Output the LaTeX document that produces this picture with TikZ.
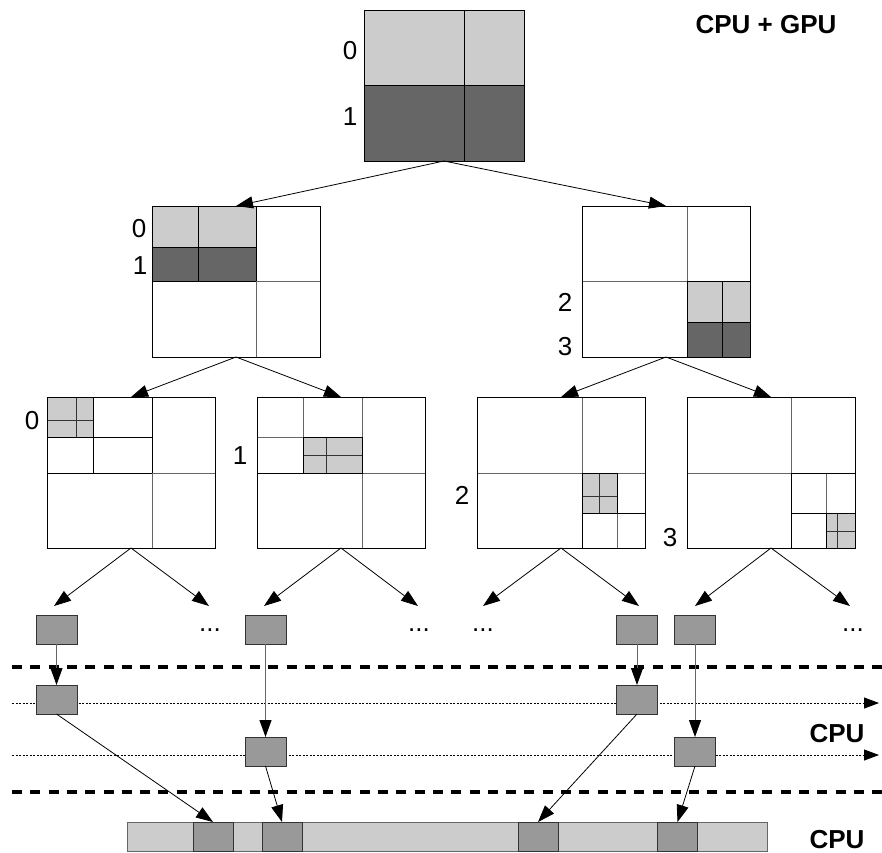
\documentclass[tikz,border=0pt]{standalone}
\usepackage{fontspec}
\setmainfont{Liberation Sans}
\usetikzlibrary{arrows.meta}
\definecolor{lightg}{HTML}{CCCCCC}
\definecolor{darkg}{HTML}{666666}
\definecolor{midg}{HTML}{999999}
\begin{document}
\begin{tikzpicture}[x=1pt,y=-1pt,
  sq/.style={draw=black, line width=1pt, minimum width=168pt, minimum height=151pt, inner sep=0pt, outer sep=0pt},
  inl/.style={line width=0.8pt, draw=black!60},
  thk/.style={line width=1pt, draw=black},
  fine/.style={line width=0.8pt, draw=black!80},
  arr/.style={-{Triangle[length=17pt,width=12pt]}, line width=0.8pt},
  arrv/.style={-{Triangle[length=17pt,width=12pt,color=black]}, draw=black!60, line width=1pt},
  blk/.style={draw=black!80, fill=midg, line width=1pt, minimum width=41pt, minimum height=29pt, inner sep=0pt, outer sep=0pt},
  seg/.style={draw=black!80, fill=midg, line width=1pt, minimum width=40pt, minimum height=29pt, inner sep=0pt, outer sep=0pt},
  barbox/.style={draw=black!60, fill=lightg, line width=1pt, minimum width=640pt, minimum height=29pt, inner sep=0pt, outer sep=0pt},
  num/.style={font=\fontsize{26}{30}\selectfont, inner sep=0pt, anchor=base},
  lbl/.style={font=\bfseries\fontsize{26}{30}\selectfont, inner sep=0pt, anchor=base},
  thickdash/.style={line width=4pt, dash pattern=on 10pt off 8.3pt},
  dotarr/.style={line width=0.8pt, dash pattern=on 2pt off 1.5pt, -{Triangle[length=15pt,width=11pt,sep=0pt]}}
]
\useasboundingbox (0,0) rectangle (882,852);

% ---------- top square ----------
\fill[lightg] (364,10) rectangle (524,85);
\fill[darkg] (364,85) rectangle (524,161);
\draw[line width=1pt] (464,10)--(464,161) (364,85)--(524,85);
\node[sq, minimum width=160pt] (top) at (444,85.5) {};
\node[num] (t0) at (350,59) {0};
\node[num] (t1) at (350,125) {1};
\node[lbl] (cg) at (766,33) {CPU + GPU};

% ---------- level 2 left ----------
\fill[lightg] (152,206) rectangle (256,247);
\fill[darkg] (152,247) rectangle (256,281);
\draw[inl] (256,206)--(256,357) (152,281)--(320,281);
\draw[line width=1pt] (198,206)--(198,281) (152,247)--(256,247) (256,206)--(256,281) (152,281)--(256,281);
\node[sq] (la) at (236,281.5) {};
\node[num] (la0) at (139,237) {0};
\node[num] (la1) at (140,274) {1};

% ---------- level 2 right ----------
\fill[lightg] (687,281) rectangle (750,322);
\fill[darkg] (687,322) rectangle (750,357);
\draw[inl] (687,206)--(687,357) (582,281)--(750,281);
\draw[line width=1pt] (722,281)--(722,357) (687,322)--(750,322) (687,281)--(687,357) (687,281)--(750,281);
\node[sq] (lb) at (666,281.5) {};
\node[num] (lb2) at (565,311) {2};
\node[num] (lb3) at (565,355) {3};

% ---------- level 3, square 1 ----------
\fill[lightg] (47,397) rectangle (93,437);
\draw[inl] (152,397)--(152,548) (47,473)--(215,473);
\draw[fine] (76,397)--(76,437) (47,420)--(93,420);
\draw[thk] (47,437)--(152,437) (93,397)--(93,473) (152,397)--(152,473) (47,473)--(152,473);
\draw[thk] (47,397) rectangle (93,437);
\node[sq] (sa) at (131,472.5) {};
\node[num] (sa0) at (32,429) {0};

% ---------- level 3, square 2 ----------
\fill[lightg] (303,437) rectangle (362,473);
\draw[inl] (362,397)--(362,548) (257,473)--(425,473) (257,437)--(303,437) (303,397)--(303,437);
\draw[fine] (326,437)--(326,473) (303,455)--(362,455);
\draw[thk] (257,473)--(362,473) (303,437)--(303,473);
\draw[thk] (303,437) rectangle (362,473);
\node[sq] (sb) at (341,472.5) {};
\node[num] (sb1) at (240,464) {1};

% ---------- level 3, square 3 ----------
\fill[lightg] (582,473) rectangle (617,513);
\draw[inl] (582,397)--(582,548) (477,473)--(645,473) (617,513)--(617,548) (617,473)--(645,473);
\draw[fine] (599,473)--(599,513) (582,496)--(617,496);
\draw[thk] (582,513)--(645,513) (617,473)--(617,513) (582,473)--(582,548);
\draw[thk] (582,473) rectangle (617,513);
\node[sq] (sc) at (561,472.5) {};
\node[num] (sc2) at (462,504) {2};

% ---------- level 3, square 4 ----------
\fill[lightg] (826,513) rectangle (855,548);
\draw[inl] (791,397)--(791,548) (687,473)--(855,473) (826,473)--(826,513);
\draw[fine] (837,513)--(837,548) (826,531)--(855,531);
\draw[thk] (791,473)--(855,473) (791,473)--(791,548) (791,513)--(855,513);
\draw[thk] (826,513) rectangle (855,548);
\node[sq] (sd) at (771,472.5) {};
\node[num] (sd3) at (670,546) {3};

% ---------- tree arrows ----------
\draw[arr] (top.south) -- (la.north);
\draw[arr] (top.south) -- (lb.north);
\draw[arr] (la.south) -- (sa.north);
\draw[arr] (la.south) -- (sb.north);
\draw[arr] (lb.south) -- (sc.north);
\draw[arr] (lb.south) -- (sd.north);

\coordinate (e1) at (54,606);
\coordinate (e2) at (209,606);
\coordinate (e3) at (264,606);
\coordinate (e4) at (418,606);
\coordinate (e5) at (483,606);
\coordinate (e6) at (639,606);
\coordinate (e7) at (695,606);
\coordinate (e8) at (850,606);
\draw[arr] (sa.south) -- (e1);
\draw[arr] (sa.south) -- (e2);
\draw[arr] (sb.south) -- (e3);
\draw[arr] (sb.south) -- (e4);
\draw[arr] (sc.south) -- (e5);
\draw[arr] (sc.south) -- (e6);
\draw[arr] (sd.south) -- (e7);
\draw[arr] (sd.south) -- (e8);

\node[num] (d1) at (210,631) {...};
\node[num] (d2) at (419,631) {...};
\node[num] (d3) at (483,631) {...};
\node[num] (d4) at (853,631) {...};

% ---------- separators and timelines ----------
\draw[thickdash] (12,667) -- (882,667);
\draw[thickdash] (12,792) -- (882,792);
\draw[dotarr] (12,703) -- (879,703);
\draw[dotarr] (12,755) -- (879,755);

% ---------- boxes ----------
\node[blk] (A) at (56.5,629.5) {};
\node[blk] (B) at (265.5,629.5) {};
\node[blk] (C) at (637,629.5) {};
\node[blk] (D) at (695,629.5) {};
\node[blk] (A2) at (56.5,699.5) {};
\node[blk] (C2) at (637,699.5) {};
\node[blk] (B3) at (265.5,751.5) {};
\node[blk] (D3) at (695,751.5) {};

\draw[arrv] (A.south) -- (A2.north);
\draw[arrv] (B.south) -- (B3.north);
\draw[arrv] (C.south) -- (C2.north);
\draw[arrv] (D.south) -- (D3.north);

% ---------- bottom bar ----------
\node[barbox] (bar) at (447,836.5) {};
\node[seg] (g1) at (213,836.5) {};
\node[seg] (g2) at (282,836.5) {};
\node[seg] (g3) at (538,836.5) {};
\node[seg] (g4) at (677.5,836.5) {};

\draw[arr] (A2.south) -- (g1.north);
\draw[arr] (B3.south) -- (g2.north);
\draw[arr] (C2.south) -- (g3.north);
\draw[arr] (D3.south) -- (g4.north);

\node[lbl] (cpu1) at (837,742) {CPU};
\node[lbl] (cpu2) at (837,848) {CPU};
\end{tikzpicture}
\end{document}
